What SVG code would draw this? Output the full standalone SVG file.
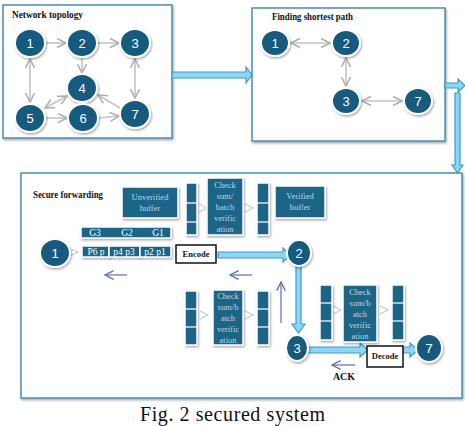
<svg xmlns="http://www.w3.org/2000/svg" width="465" height="426" viewBox="0 0 465 426">
<defs>
<filter id="sh" x="-30%" y="-30%" width="160%" height="160%"><feDropShadow dx="1" dy="1.5" stdDeviation="1" flood-color="#000" flood-opacity="0.35"/></filter>
<marker id="ga" viewBox="0 0 10 10" refX="9" refY="5" markerWidth="7" markerHeight="7" orient="auto-start-reverse"><path d="M1,1 L9,5 L1,9" fill="none" stroke="#b0b0b0" stroke-width="1.4"/></marker>
<marker id="ba" viewBox="0 0 10 10" refX="9" refY="5" markerWidth="9" markerHeight="9" orient="auto"><path d="M1,1 L9,5 L1,9" fill="none" stroke="#5a6fb0" stroke-width="1.2"/></marker>
</defs>
<style>
.frame{fill:#fff;stroke:#4a8db0;stroke-width:1.5;filter:url(#sh)}
.ttl{font-family:"Liberation Serif",serif;font-weight:bold;font-size:11px;fill:#111}
.nd{fill:#175a7e;stroke:#fff;stroke-width:2;filter:url(#sh)}
.nl{font-family:"Liberation Sans",sans-serif;font-size:13px;fill:#fff;text-anchor:middle}
.ge{stroke:#c4c4c4;stroke-width:1.6;fill:none}
.bx{fill:#1b6586;stroke:#fff;stroke-width:1.5;filter:url(#sh)}
.bt{font-family:"Liberation Serif",serif;font-size:8.5px;fill:#b9d6e6;text-anchor:middle}
.wt{font-family:"Liberation Serif",serif;font-size:9.5px;fill:#fff;text-anchor:middle}
.sep{stroke:#fff;stroke-width:1.2}
.fat{fill:#8fd6f4;stroke:#3b9bcc;stroke-width:1.2}
.thin{stroke:#5a6fb0;stroke-width:1.2;fill:none}
.wb{fill:#fff;stroke:#111;stroke-width:1.5}
.bl{font-family:"Liberation Serif",serif;font-weight:bold;font-size:8.5px;fill:#111;text-anchor:middle}
.sm{stroke:#c9c9c9;stroke-width:1.2;fill:none}
</style>

<g id="frames">
<rect class="frame" x="3" y="5" width="169" height="133"/>
<rect class="frame" x="252" y="8" width="193" height="133"/>
<rect class="frame" x="21" y="173" width="441" height="225"/>
</g>

<g id="titles">
<text class="ttl" x="12" y="18" textLength="71" lengthAdjust="spacingAndGlyphs">Network topology</text>
<text class="ttl" x="272" y="20" textLength="81" lengthAdjust="spacingAndGlyphs">Finding shortest path</text>
<text class="ttl" x="33" y="198" textLength="70" lengthAdjust="spacingAndGlyphs">Secure forwarding</text>
</g>

<g id="connectors">
<line class="ge" x1="46" y1="43" x2="66" y2="43" marker-end="url(#ga)"/>
<line class="ge" x1="98" y1="43" x2="119" y2="43" marker-end="url(#ga)"/>
<line class="ge" x1="30" y1="59" x2="30" y2="102" marker-start="url(#ga)" marker-end="url(#ga)"/>
<line class="ge" x1="82" y1="59" x2="82" y2="73" marker-end="url(#ga)"/>
<line class="ge" x1="135" y1="59" x2="135" y2="98" marker-start="url(#ga)" marker-end="url(#ga)"/>
<line class="ge" x1="45" y1="108" x2="67" y2="96" marker-start="url(#ga)" marker-end="url(#ga)"/>
<line class="ge" x1="46" y1="118" x2="67" y2="118" marker-end="url(#ga)"/>
<line class="ge" x1="99" y1="118" x2="119" y2="116" marker-end="url(#ga)"/>
<line class="ge" x1="120" y1="108" x2="98" y2="95" marker-end="url(#ga)"/>
<line class="ge" x1="291" y1="43" x2="330" y2="43" marker-start="url(#ga)" marker-end="url(#ga)"/>
<line class="ge" x1="346" y1="58" x2="346" y2="86" marker-start="url(#ga)" marker-end="url(#ga)"/>
<line class="ge" x1="362" y1="101" x2="402" y2="101" marker-start="url(#ga)" marker-end="url(#ga)"/>
<path class="fat" d="M172,72 H246 V67 L252,75 L246,83 V78 H172 Z"/>
<path class="fat" d="M445,83 H458 V79 L465,85.5 L458,92 V88 H445 Z"/>
<path class="fat" d="M455,93 H460 V165 H463 L457.5,173 L452,165 H455 Z"/>
<path class="fat" d="M218,252 H283 V248 L291,255 L283,262 V258 H218 Z"/>
<path class="fat" d="M296,265 H301 V324 H305 L298.5,333 L292,324 H296 Z"/>
<path class="fat" d="M306,347 H360 V343 L368,350 L360,357 V353 H306 Z"/>
<path class="fat" d="M403,347 H410 V343 L418,350 L410,357 V353 H403 Z"/>
<path class="sm" d="M70,249 L78,252 L70,256"/>
<path class="sm" d="M199,204 L207,208 L199,212"/>
<path class="sm" d="M245,204 L253,208 L245,212"/>
<path class="sm" d="M200,311 L208,315 L200,319"/>
<path class="sm" d="M245,311 L253,315 L245,319"/>
<path class="sm" d="M333,306 L341,310 L333,314"/>
<path class="sm" d="M380,306 L388,310 L380,314"/>
<line class="thin" x1="127" y1="275" x2="105" y2="275" marker-end="url(#ba)"/>
<line class="thin" x1="252" y1="275" x2="230" y2="275" marker-end="url(#ba)"/>
<line class="thin" x1="281" y1="323" x2="281" y2="282" marker-end="url(#ba)"/>
<line class="thin" x1="355" y1="365" x2="332" y2="365" marker-end="url(#ba)"/>
</g>

<g id="n1a"><ellipse class="nd" cx="30" cy="43" rx="15" ry="14"/><text class="nl" x="30" y="48">1</text></g>
<g id="n2a"><ellipse class="nd" cx="82" cy="43" rx="15" ry="14"/><text class="nl" x="82" y="48">2</text></g>
<g id="n3a"><ellipse class="nd" cx="135" cy="43" rx="15" ry="14"/><text class="nl" x="135" y="48">3</text></g>
<g id="n4a"><ellipse class="nd" cx="82" cy="88" rx="15" ry="14"/><text class="nl" x="82" y="93">4</text></g>
<g id="n5a"><ellipse class="nd" cx="30" cy="118" rx="15" ry="14"/><text class="nl" x="30" y="123">5</text></g>
<g id="n6a"><ellipse class="nd" cx="83" cy="118" rx="15" ry="14"/><text class="nl" x="83" y="123">6</text></g>
<g id="n7a"><ellipse class="nd" cx="135" cy="114" rx="15" ry="14"/><text class="nl" x="135" y="119">7</text></g>

<g id="n1b"><ellipse class="nd" cx="275" cy="43" rx="14" ry="13"/><text class="nl" x="275" y="48">1</text></g>
<g id="n2b"><ellipse class="nd" cx="346" cy="43" rx="14" ry="13"/><text class="nl" x="346" y="48">2</text></g>
<g id="n3b"><ellipse class="nd" cx="346" cy="101" rx="14" ry="13"/><text class="nl" x="346" y="106">3</text></g>
<g id="n7b"><ellipse class="nd" cx="418" cy="101" rx="14" ry="13"/><text class="nl" x="418" y="106">7</text></g>

<g id="unverified"><rect class="bx" x="122" y="187" width="56" height="31"/><text class="bt" x="150" y="200">Unverified</text><text class="bt" x="150" y="211">buffer</text></g>
<g id="stack1"><rect class="bx" x="186" y="183" width="11" height="52"/><line class="sep" x1="186" y1="203" x2="197" y2="203"/><line class="sep" x1="186" y1="222" x2="197" y2="222"/></g>
<g id="check1"><rect class="bx" x="207" y="178" width="36" height="57"/><text class="bt" x="225" y="188">Check</text><text class="bt" x="225" y="199">sum/</text><text class="bt" x="225" y="210">batch</text><text class="bt" x="225" y="221">verific</text><text class="bt" x="225" y="232">ation</text></g>
<g id="stack2"><rect class="bx" x="257" y="183" width="12" height="52"/><line class="sep" x1="257" y1="203" x2="269" y2="203"/><line class="sep" x1="257" y1="222" x2="269" y2="222"/></g>
<g id="verified"><rect class="bx" x="275" y="186" width="50" height="32"/><text class="bt" x="300" y="199">Verified</text><text class="bt" x="300" y="210">buffer</text></g>

<g id="gbar"><rect class="bx" x="81" y="227" width="90" height="11"/><text class="wt" x="95" y="236">G3</text><text class="wt" x="127" y="236">G2</text><text class="wt" x="158" y="236">G1</text></g>
<g id="pbar"><rect class="bx" x="82" y="246" width="27" height="11"/><rect class="bx" x="109" y="246" width="31" height="11"/><rect class="bx" x="140" y="246" width="31" height="11"/><text class="wt" x="96" y="255">P6 p</text><text class="wt" x="124" y="255">p4 p3</text><text class="wt" x="155" y="255">p2 p1</text></g>
<g id="n1c"><ellipse class="nd" cx="55" cy="253" rx="15" ry="14"/><text class="nl" x="55" y="258">1</text></g>
<g id="encode"><rect class="wb" x="176" y="245" width="40" height="18"/><text class="bl" x="196" y="257">Encode</text></g>
<g id="n2c"><ellipse class="nd" cx="299" cy="253" rx="12" ry="13"/><text class="nl" x="299" y="258">2</text></g>

<g id="stack3"><rect class="bx" x="185" y="291" width="12" height="54"/><line class="sep" x1="185" y1="309" x2="197" y2="309"/><line class="sep" x1="185" y1="327" x2="197" y2="327"/></g>
<g id="check2"><rect class="bx" x="213" y="290" width="30" height="55"/><text class="bt" x="228" y="299">Check</text><text class="bt" x="228" y="310">sum/b</text><text class="bt" x="228" y="321">atch</text><text class="bt" x="228" y="332">verific</text><text class="bt" x="228" y="343">ation</text></g>
<g id="stack4"><rect class="bx" x="257" y="291" width="12" height="54"/><line class="sep" x1="257" y1="309" x2="269" y2="309"/><line class="sep" x1="257" y1="327" x2="269" y2="327"/></g>

<g id="stack5"><rect class="bx" x="320" y="285" width="12" height="55"/><line class="sep" x1="320" y1="303" x2="332" y2="303"/><line class="sep" x1="320" y1="321" x2="332" y2="321"/></g>
<g id="check3"><rect class="bx" x="343" y="285" width="34" height="57"/><text class="bt" x="360" y="295">Check</text><text class="bt" x="360" y="306">sum/b</text><text class="bt" x="360" y="317">atch</text><text class="bt" x="360" y="328">verific</text><text class="bt" x="360" y="339">ation</text></g>
<g id="stack6"><rect class="bx" x="392" y="285" width="12" height="55"/><line class="sep" x1="392" y1="303" x2="404" y2="303"/><line class="sep" x1="392" y1="321" x2="404" y2="321"/></g>

<g id="n3c"><ellipse class="nd" cx="297" cy="348" rx="11" ry="13"/><text class="nl" x="297" y="353">3</text></g>
<g id="decode"><rect class="wb" x="367" y="346" width="36" height="21"/><text class="bl" x="385" y="359">Decode</text></g>
<g id="n7c"><ellipse class="nd" cx="429" cy="348" rx="13" ry="14"/><text class="nl" x="429" y="353">7</text></g>
<text class="bl" x="344" y="380" style="font-size:10px">ACK</text>

<text x="140" y="421" textLength="185" lengthAdjust="spacing" style="font-family:'Liberation Serif',serif;font-size:20px;fill:#111">Fig. 2 secured system</text>
</svg>
